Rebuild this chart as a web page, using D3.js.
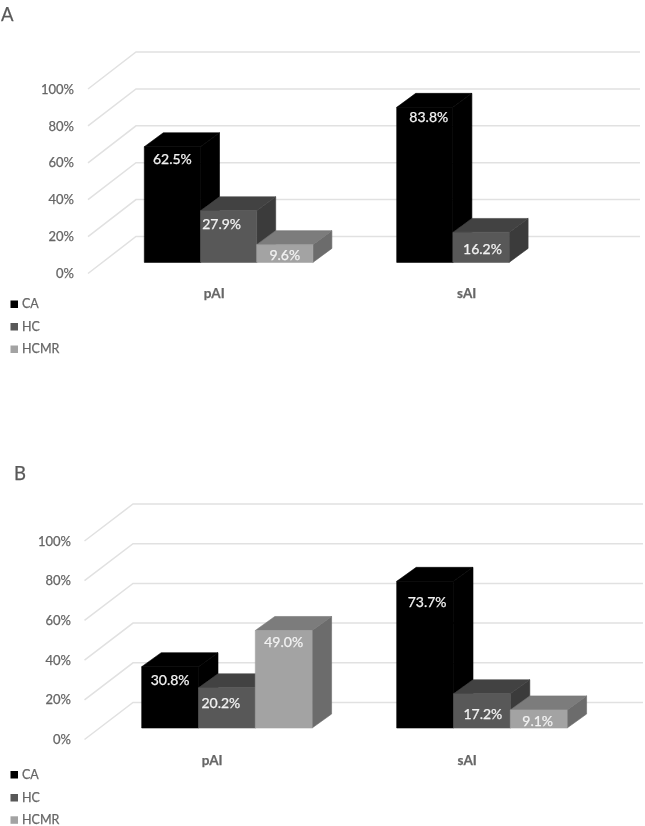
<!DOCTYPE html>
<html>
<head>
<meta charset="utf-8">
<script src="https://cdnjs.cloudflare.com/ajax/libs/d3/7.8.5/d3.min.js"></script>
<style>
html,body{margin:0;padding:0;background:#fff}
svg{display:block}
text{font-family:Lato,"Open Sans",sans-serif;stroke:currentColor;stroke-width:0.25px}
</style>
</head>
<body>
<svg id="chart" width="645" height="826"></svg>
<script>
// ---- data ----
const categories = ["pAI", "sAI"];
const seriesNames = ["CA", "HC", "HCMR"];
const panelTitles = ["A", "B"];
const yTicks = [0, 20, 40, 60, 80, 100];
const panelACA = [62.5, 83.8];
const panelAHC = [27.9, 16.2];
const panelAHCMR = [9.6, null];
const panelBCA = [30.8, 73.7];
const panelBHC = [20.2, 17.2];
const panelBHCMR = [49.0, 9.1];

// ---- styling & layout ----
const faceColors = {
  CA:   {front:"#000000", top:"#000000", side:"#000000", legend:"#000000"},
  HC:   {front:"#595959", top:"#434343", side:"#3a3a3a", legend:"#595959"},
  HCMR: {front:"#a3a3a3", top:"#7b7b7b", side:"#6c6c6c", legend:"#a3a3a3"}
};
const layoutA = {
  title:{x:1,y:21,size:18.5}, axisFront:[273.5,89], axisX:88, wall:{dx:48,dy:-37}, gridEnd:640,
  tickRight:74, tickSize:13,
  barBase:262.4, barTop:77.4, groupStart:144.3, groupStep:252.4, barW:56.2, depth:{dx:19,dy:-14},
  catY:293, catOffset:70, legendY:[304,326.5,349],
  labelDx:[[0,-7,0],[4,1.5,0]], labelDy:[[12.5,13.5,10.5],[9.5,17,0]]
};
const layoutB = {
  title:{x:14,y:479.5,size:18.5}, axisFront:[739.5,541], axisX:84.5, wall:{dx:48.5,dy:-37}, gridEnd:643,
  tickRight:71, tickSize:13,
  barBase:728, barTop:529, groupStart:141.7, groupStep:255, barW:56.8, depth:{dx:19.5,dy:-14},
  catY:760, catOffset:70.5, legendY:[774.5,797.5,819.8],
  labelDx:[[0,-6,0],[2,1,-1]], labelDy:[[13,15,11.7],[21,20,11]]
};

const svg = d3.select("#chart");
const blur = svg.append("defs").append("filter").attr("id","soft")
  .attr("filterUnits","userSpaceOnUse")
  .attr("x",0).attr("y",0).attr("width",645).attr("height",826);
blur.append("feGaussianBlur").attr("stdDeviation",0.45);
const root = svg.append("g").attr("filter","url(#soft)");

function drawPanel(title, values, L) {
  const g = root.append("g");
  g.append("text").attr("x",L.title.x).attr("y",L.title.y).attr("font-size",L.title.size)
    .style("color","#595959").attr("fill","#595959").text(title);

  const yFront = d3.scaleLinear().domain([0,100]).range(L.axisFront);
  const yBar = d3.scaleLinear().domain([0,100]).range([L.barBase,L.barTop]);
  const x0 = d3.scaleBand().domain(categories)
    .range([L.groupStart, L.groupStart + L.groupStep*categories.length]);
  const x1 = d3.scaleBand().domain(seriesNames).range([0, L.barW*seriesNames.length]);

  // wall + floor gridlines
  const grid = g.append("g").attr("fill","none").attr("stroke","#e1e1e1").attr("stroke-width",1.5);
  grid.selectAll("path").data(yTicks).join("path")
    .attr("d", t => {
      const y = yFront(t);
      return d3.line()([[L.axisX,y],[L.axisX+L.wall.dx,y+L.wall.dy],[L.gridEnd,y+L.wall.dy]]);
    });

  // y axis labels
  const axis = d3.axisLeft(yFront).tickValues(yTicks).tickSize(0).tickPadding(0).tickFormat(d => d + "%");
  const ag = g.append("g").attr("transform",`translate(${L.tickRight},0)`).call(axis);
  ag.select(".domain").remove();
  ag.selectAll("text").attr("font-size",L.tickSize).attr("fill","#666666").style("color","#666666")
    .style("font-family",'Lato,"Open Sans",sans-serif');

  // 3D bars
  const {dx,dy} = L.depth;
  categories.forEach((c,ci) => {
    seriesNames.forEach((s,si) => {
      const v = values[si][ci];
      if (v === null) return;
      const X = x0(c) + x1(s), W = x1.bandwidth(), T = yBar(v), B = yBar(0);
      const col = faceColors[s];
      const poly = (pts,fill) => g.append("path").attr("d",d3.line()(pts)+"Z")
        .attr("fill",fill).attr("stroke",fill).attr("stroke-width",0.6);
      poly([[X+W,T],[X+W+dx,T+dy],[X+W+dx,B+dy],[X+W,B]], col.side);
      poly([[X,T],[X+dx,T+dy],[X+W+dx,T+dy],[X+W,T]], col.top);
      poly([[X,T],[X+W,T],[X+W,B],[X,B]], col.front);
      g.append("text").attr("x",X+W/2+L.labelDx[ci][si]).attr("y",T+L.labelDy[ci][si])
        .attr("dy","0.35em").attr("text-anchor","middle").attr("font-size",14)
        .style("color","#f2f2f2").attr("fill","#f2f2f2").text(v.toFixed(1)+"%");
    });
    g.append("text").attr("x",x0(c)+L.catOffset).attr("y",L.catY).attr("dy","0.35em")
      .attr("text-anchor","middle").attr("font-size",13.5).attr("font-weight",700)
      .style("color","#666666").attr("fill","#666666").text(c);
  });

  // legend
  seriesNames.forEach((s,i) => {
    g.append("rect").attr("x",10.5).attr("y",L.legendY[i]-3.5).attr("width",7.5).attr("height",7.5)
      .attr("fill",faceColors[s].legend);
    g.append("text").attr("x",22).attr("y",L.legendY[i]).attr("dy","0.35em")
      .attr("font-size",12.5).style("color","#666666").attr("fill","#666666").text(s);
  });
}

drawPanel(panelTitles[0],[panelACA,panelAHC,panelAHCMR],layoutA);
drawPanel(panelTitles[1],[panelBCA,panelBHC,panelBHCMR],layoutB);
</script>
</body>
</html>
